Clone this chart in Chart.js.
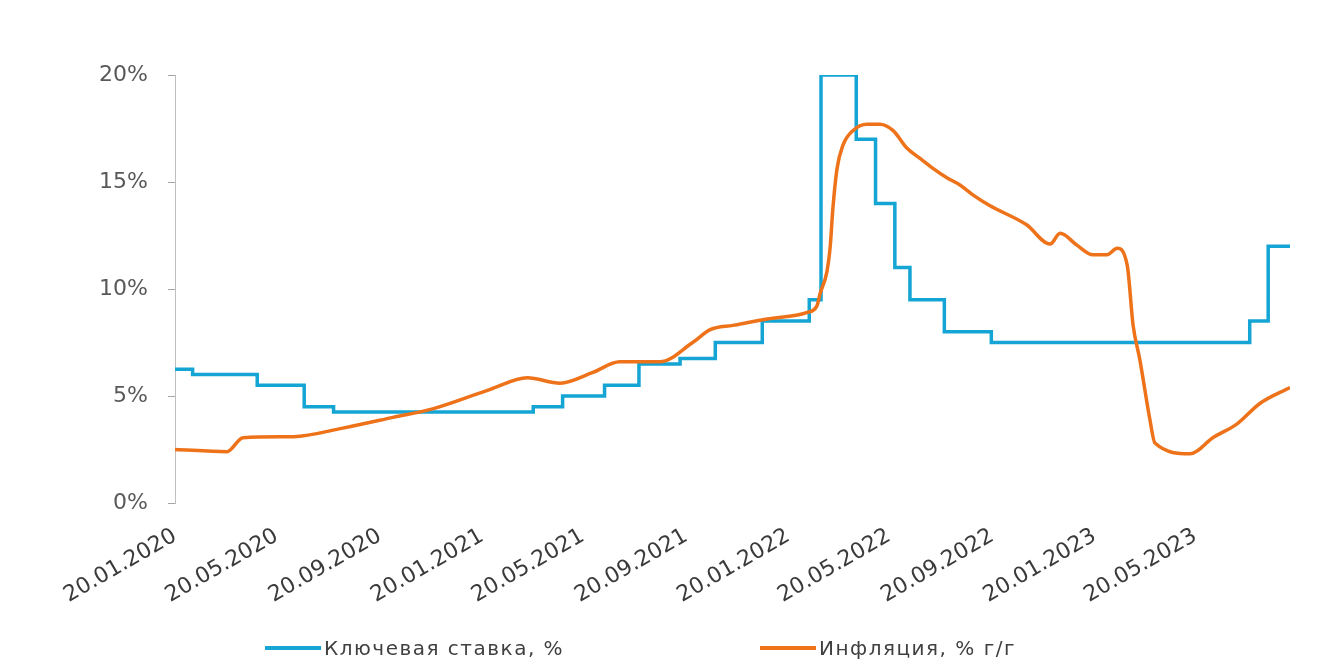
<!DOCTYPE html>
<html>
<head>
<meta charset="utf-8">
<script src="https://cdn.jsdelivr.net/npm/chart.js@4/dist/chart.umd.min.js"></script>
<style>
  html, body { margin: 0; padding: 0; background: #fff; }
  #wrap { position: relative; width: 1333px; height: 664px; }
  #legend { position: absolute; left: 0; top: 636px; width: 1333px; height: 24px;
            font-family: 'DejaVu Sans', sans-serif; font-size: 20px; letter-spacing: 1.5px; color: #404040; }
  .item { position: absolute; top: 0; display: flex; align-items: center; height: 24px; }
  .swatch { display: inline-block; width: 56px; height: 4px; margin-right: 3px; }
</style>
</head>
<body>
<div id="wrap">
  <canvas id="chart" width="1333" height="664"></canvas>
  <div id="legend"></div>
</div>
<script>
// x axis tick labels (every 4 months)
var tickLabels = ['20.01.2020','20.05.2020','20.09.2020','20.01.2021','20.05.2021','20.09.2021',
                  '20.01.2022','20.05.2022','20.09.2022','20.01.2023','20.05.2023']
var yTicks = [0, 5, 10, 15, 20]
var startDate = '20.01.2020'
var endDate = '10.09.2023'

// key rate: date of each change and the new level
var rateDates  = ['20.01.2020','10.02.2020','27.04.2020','22.06.2020','27.07.2020','22.03.2021','26.04.2021',
                  '15.06.2021','26.07.2021','13.09.2021','25.10.2021','20.12.2021','14.02.2022','28.02.2022',
                  '11.04.2022','04.05.2022','27.05.2022','14.06.2022','25.07.2022','19.09.2022','24.07.2023',
                  '15.08.2023','10.09.2023']
var rateValues = [6.25, 6.0, 5.5, 4.5, 4.25, 4.5, 5.0,
                  5.5, 6.5, 6.75, 7.5, 8.5, 9.5, 20,
                  17, 14, 11, 9.5, 8.0, 7.5, 8.5,
                  12, 12]

// inflation y/y
var inflDates  = ['20.01.2020','22.03.2020','10.04.2020','09.06.2020','07.08.2020','06.10.2020','22.11.2020',
                  '29.01.2021','15.03.2021','23.04.2021','01.06.2021','03.07.2021','20.08.2021','28.09.2021',
                  '19.10.2021','15.11.2021','26.12.2021','11.02.2022','23.02.2022','27.02.2022','07.03.2022',
                  '11.03.2022','14.03.2022','19.03.2022','26.03.2022','07.04.2022','24.04.2022','09.05.2022',
                  '25.05.2022','10.06.2022','26.06.2022','11.07.2022','28.07.2022','13.08.2022','28.08.2022',
                  '17.09.2022','31.10.2022','28.11.2022','10.12.2022','30.12.2022','18.01.2023','04.02.2023',
                  '16.02.2023','28.02.2023','07.03.2023','15.03.2023','27.03.2023','02.04.2023','14.05.2023',
                  '10.06.2023','09.07.2023','05.08.2023','10.09.2023']
var inflValues = [2.5, 2.4, 3.05, 3.1, 3.5, 4.0, 4.4,
                  5.3, 5.85, 5.6, 6.1, 6.6, 6.6, 7.5,
                  8.1, 8.3, 8.6, 8.9, 9.2, 9.8, 10.8,
                  12.0, 13.7, 15.6, 16.7, 17.4, 17.7, 17.7,
                  17.4, 16.6, 16.1, 15.65, 15.2, 14.85, 14.4,
                  13.9, 13.0, 12.1, 12.6, 12.05, 11.6, 11.6,
                  11.9, 11.1, 8.3, 6.7, 3.9, 2.8, 2.3,
                  3.05, 3.7, 4.65, 5.4]

var seriesNames = ['Ключевая ставка, %', 'Инфляция, % г/г']
var seriesColors = ['#14a5d4', '#ee7219']

function dayOf(s){
  var p = s.split('.').map(Number)
  var s0 = startDate.split('.').map(Number)
  return (Date.UTC(p[2], p[1]-1, p[0]) - Date.UTC(s0[2], s0[1]-1, s0[0])) / 864e5
}
function toPoints(dates, values){
  return dates.map(function(d, i){ return { x: dayOf(d), y: values[i] } })
}

var tickDays = tickLabels.map(dayOf)

Chart.defaults.font.family = "'DejaVu Sans', sans-serif"

new Chart(document.getElementById('chart'), {
  type: 'line',
  data: {
    datasets: [{
      label: seriesNames[0],
      data: toPoints(rateDates, rateValues),
      borderColor: seriesColors[0],
      backgroundColor: seriesColors[0],
      borderWidth: 3.5,
      pointRadius: 0,
      stepped: 'before',
      order: 1
    }, {
      label: seriesNames[1],
      data: toPoints(inflDates, inflValues),
      borderColor: seriesColors[1],
      backgroundColor: seriesColors[1],
      borderWidth: 3.5,
      pointRadius: 0,
      cubicInterpolationMode: 'monotone',
      order: 0
    }]
  },
  options: {
    responsive: false,
    animation: false,
    layout: { padding: { top: 75, right: 43, left: 0, bottom: 0 } },
    plugins: { legend: { display: false }, tooltip: { enabled: false } },
    scales: {
      x: {
        type: 'linear',
        min: 0,
        max: dayOf(endDate),
        afterBuildTicks: function(s){ s.ticks = tickDays.map(function(v){ return { value: v } }) },
        afterFit: function(s){ s.height = 161 },
        ticks: {
          autoSkip: false,
          minRotation: 30,
          maxRotation: 30,
          padding: 20,
          color: '#3a3a3a',
          font: { size: 22 },
          callback: function(v, i){ return tickLabels[i] }
        },
        grid: { display: false, drawTicks: false },
        border: { display: false }
      },
      y: {
        min: 0,
        max: 20,
        afterBuildTicks: function(s){ s.ticks = yTicks.map(function(v){ return { value: v } }) },
        afterFit: function(s){ s.width = 175 },
        ticks: {
          padding: 20,
          color: '#595959',
          font: { size: 22 },
          callback: function(v){ return v + '%' }
        },
        grid: { drawOnChartArea: false, drawTicks: true, tickLength: 7, tickColor: '#a6a6a6' },
        border: { display: true, color: '#bfbfbf', width: 1 }
      }
    }
  }
})

// legend drawn as html so the two items can sit far apart like in the source
var legendLeft = [265, 760]
var legend = document.getElementById('legend')
seriesNames.forEach(function(name, i){
  var item = document.createElement('div')
  item.className = 'item'
  item.style.left = legendLeft[i] + 'px'
  var sw = document.createElement('span')
  sw.className = 'swatch'
  sw.style.background = seriesColors[i]
  var tx = document.createElement('span')
  tx.textContent = name
  item.appendChild(sw)
  item.appendChild(tx)
  legend.appendChild(item)
})
</script>
</body>
</html>
